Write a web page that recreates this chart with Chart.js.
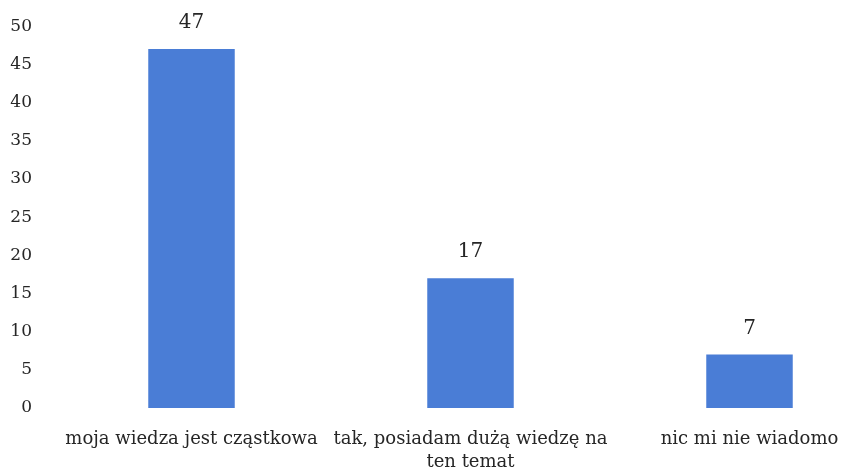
<!DOCTYPE html>
<html>
<head>
<meta charset="utf-8">
<script src="https://cdn.jsdelivr.net/npm/chart.js@4.4.1/dist/chart.umd.min.js"></script>
<style>
  html, body { margin: 0; padding: 0; background: #fff; overflow: hidden; }
  #wrap { position: relative; top: -4px; width: 889px; height: 476px; }
</style>
</head>
<body>
<div id="wrap"><canvas id="myChart"></canvas></div>
<script>
// dane wykresu
var kategorie = ["moja wiedza jest cząstkowa", ["tak, posiadam dużą wiedzę na", "ten temat"], "nic mi nie wiadomo"];
var wartosci = [47, 17, 7];
var osY = { min: 0, max: 50, krok: 5 };

var kolorSlupka = "#4a7dd6";
var kolorTekstu = "#262626";

// etykiety nad slupkami
var etykietyPlugin = {
  id: "etykiety",
  afterDatasetsDraw: function(chart) {
    var ctx = chart.ctx;
    var meta = chart.getDatasetMeta(0);
    ctx.save();
    ctx.font = "20px 'DejaVu Serif'";
    ctx.fillStyle = kolorTekstu;
    ctx.textAlign = "center";
    ctx.textBaseline = "bottom";
    meta.data.forEach(function(bar, i) {
      ctx.fillText(String(wartosci[i]), bar.x, bar.y - 16);
    });
    ctx.restore();
  }
};

var ctx = document.getElementById("myChart").getContext("2d");
var chart = new Chart(ctx, {
  type: "bar",
  data: {
    labels: kategorie,
    datasets: [
      {
        data: wartosci,
        backgroundColor: kolorSlupka,
        borderWidth: 0,
        barPercentage: 0.31,
        categoryPercentage: 1.0
      }
    ]
  },
  options: {
    responsive: true,
    maintainAspectRatio: false,
    animation: false,
    layout: { padding: { top: 10, bottom: 0, left: 0, right: 0 } },
    plugins: {
      legend: { display: false },
      tooltip: { enabled: false }
    },
    scales: {
      x: {
        grid: { display: false, drawTicks: false },
        border: { display: false },
        ticks: {
          color: kolorTekstu,
          font: { family: "DejaVu Serif", size: 18, lineHeight: 1.28 },
          padding: 20,
          maxRotation: 0,
          autoSkip: false
        },
        afterFit: function(scale) {
          scale.height = 64;
        }
      },
      y: {
        min: osY.min,
        max: osY.max,
        grid: { display: false, drawTicks: false },
        border: { display: false },
        ticks: {
          stepSize: osY.krok,
          color: kolorTekstu,
          font: { family: "DejaVu Serif", size: 17 },
          padding: 20
        },
        afterFit: function(scale) {
          scale.width = 52;
        }
      }
    }
  },
  plugins: [etykietyPlugin]
});
</script>
</body>
</html>
